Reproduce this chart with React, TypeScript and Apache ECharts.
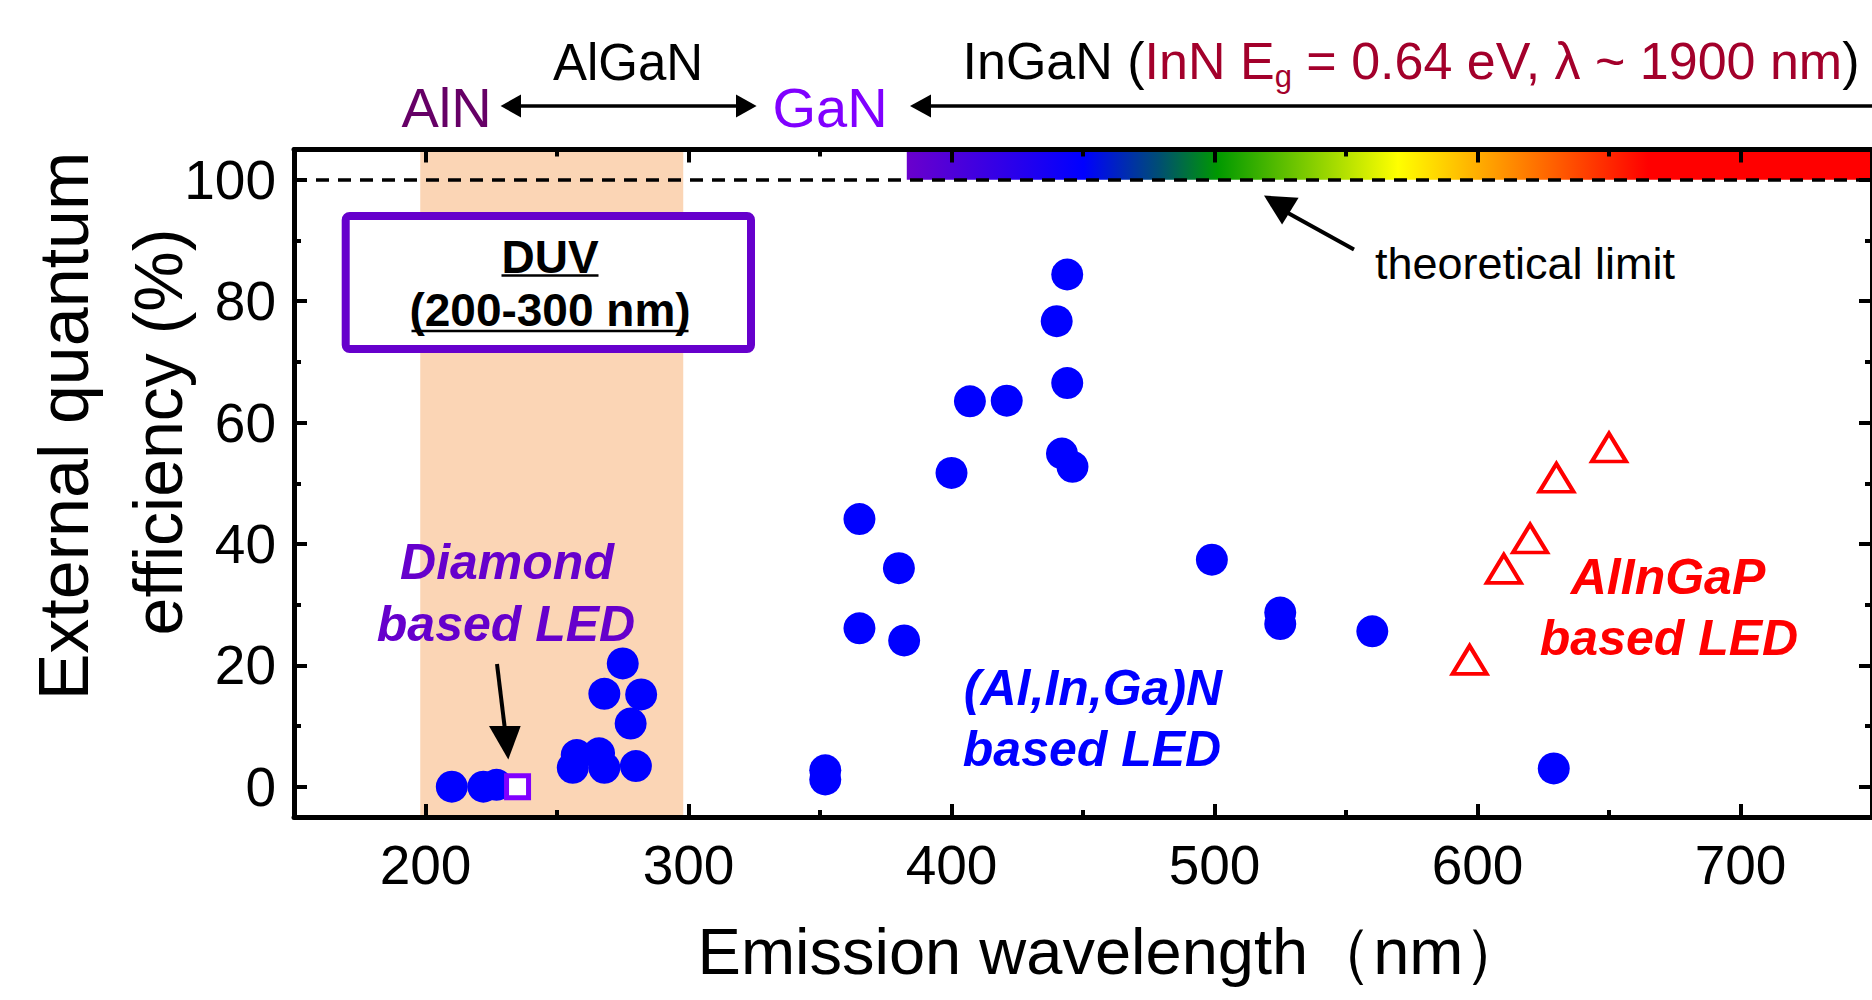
import { useEffect, useRef } from 'react';
import * as echarts from 'echarts';

const FONT = "'Liberation Sans', Arial, Helvetica, sans-serif";

// ---- data (wavelength nm, EQE %) ----
const alInGaNLed: [number, number][] = [
  [210, 0], [222, 0], [227, 0.3],
  [256, 3.1], [257.5, 5.2], [266, 5.5], [268, 3.1], [280, 3.4],
  [278, 10.4], [268, 15.3], [282, 15.2], [275, 20.3],
  [352, 2.7], [352, 1.2],
  [365, 44.1], [380, 36.0], [365, 26.1], [382, 24.1],
  [400, 51.7], [407, 63.5], [421, 63.6], [440, 76.7], [444, 84.4],
  [444, 66.5], [442, 54.9], [446, 52.7],
  [499, 37.4], [525, 28.7], [525, 26.8], [560, 25.6], [629, 3.0],
];
const diamondLed: [number, number][] = [[235, 0]];
const alInGaPLed: [number, number][] = [
  [597, 20.9], [610, 35.9], [620, 40.9], [630, 50.9], [650, 55.9],
];

const X_RANGE = [150, 750];
const Y_RANGE = [-5, 105];
const DUV_BAND = [198, 298];
const SPECTRUM_BAND = [383, 750];
const SPECTRUM_Y = [100, 105];
const THEORETICAL_LIMIT = 100;
const spectrumStops: [number, string][] = [
  [0, '#6A00CC'], [0.183, '#0000FF'], [0.263, '#005070'], [0.322, '#009900'],
  [0.509, '#FFFF00'], [0.612, '#FF9900'], [0.768, '#FF0000'], [1, '#FF0000'],
];

const AXIS_W = 5;

function axisCommon(showLabel: boolean) {
  return {
    z: 10,
    axisLine: { show: true, onZero: false, lineStyle: { color: '#000', width: AXIS_W } },
    axisTick: { show: true, inside: true, length: 13, lineStyle: { color: '#000', width: 4 } },
    minorTick: { show: true, splitNumber: 2, length: 7, lineStyle: { color: '#000', width: 4 } },
    splitLine: { show: false },
    minorSplitLine: { show: false },
    axisLabel: {
      show: showLabel,
      showMinLabel: false,
      showMaxLabel: false,
      color: '#000',
      fontSize: 55,
      fontFamily: FONT,
    },
  };
}

function txt(x: number, y: number, text: string, size: number, color: string, extra: any = {}, rot = 0) {
  return {
    type: 'text',
    x,
    y,
    rotation: rot,
    z: 100,
    style: {
      text,
      fill: color,
      fontSize: size,
      fontFamily: FONT,
      fontWeight: extra.bold ? 'bold' : 'normal',
      fontStyle: extra.italic ? 'italic' : 'normal',
      align: 'center',
      verticalAlign: 'middle',
      textAlign: 'center',
      textVerticalAlign: 'middle',
    },
  };
}

function line(x1: number, y1: number, x2: number, y2: number, w: number, color = '#000') {
  return { type: 'line', z: 100, shape: { x1, y1, x2, y2 }, style: { stroke: color, lineWidth: w } };
}

function tri(points: number[][], color = '#000') {
  return { type: 'polygon', z: 100, shape: { points }, style: { fill: color } };
}

export default function App() {
  const ref = useRef<HTMLDivElement>(null);
  useEffect(() => {
    if (!ref.current) return;
    const chart = echarts.init(ref.current, undefined, { renderer: 'svg' });
    const option: any = {
      animation: false,
      backgroundColor: '#fff',
      textStyle: { fontFamily: FONT },
      grid: { left: 294, top: 149.5, width: 1581, height: 667.5, containLabel: false },
      xAxis: [
        {
          ...axisCommon(true),
          type: 'value',
          position: 'bottom',
          min: X_RANGE[0],
          max: X_RANGE[1],
          splitNumber: 6,
          axisLabel: { ...axisCommon(true).axisLabel, margin: 20 },
        },
        {
          ...axisCommon(false),
          type: 'value',
          position: 'top',
          min: X_RANGE[0],
          max: X_RANGE[1],
          splitNumber: 6,
        },
      ],
      yAxis: [
        {
          ...axisCommon(true),
          type: 'value',
          position: 'left',
          min: Y_RANGE[0],
          max: Y_RANGE[1],
          splitNumber: 5,
          axisLabel: { ...axisCommon(true).axisLabel, margin: 18 },
        },
        {
          ...axisCommon(false),
          type: 'value',
          position: 'right',
          min: Y_RANGE[0],
          max: Y_RANGE[1],
          splitNumber: 5,
        },
      ],
      series: [
        {
          type: 'scatter',
          data: [],
          silent: true,
          markArea: {
            silent: true,
            data: [
              [
                { xAxis: DUV_BAND[0], itemStyle: { color: '#FBD5B5' } },
                { xAxis: DUV_BAND[1] },
              ],
              [
                {
                  xAxis: SPECTRUM_BAND[0],
                  yAxis: SPECTRUM_Y[0],
                  itemStyle: {
                    color: {
                      type: 'linear', x: 0, y: 0, x2: 1, y2: 0,
                      colorStops: spectrumStops.map(([offset, color]) => ({ offset, color })),
                    },
                  },
                },
                { xAxis: SPECTRUM_BAND[1], yAxis: SPECTRUM_Y[1] },
              ],
            ],
            label: { show: false },
          },
          markLine: {
            silent: true,
            symbol: ['none', 'none'],
            label: { show: false },
            lineStyle: { color: '#000', width: 3.5, type: [13, 9] },
            data: [{ yAxis: THEORETICAL_LIMIT }],
          },
        },
        {
          name: '(Al,In,Ga)N based LED',
          type: 'scatter',
          data: alInGaNLed,
          symbol: 'circle',
          symbolSize: 32,
          itemStyle: { color: '#0000FF', opacity: 1 },
          z: 3,
        },
        {
          name: 'Diamond based LED',
          type: 'scatter',
          data: diamondLed,
          symbol: 'rect',
          symbolSize: 22,
          itemStyle: { color: '#FFFFFF', borderColor: '#8000FF', borderWidth: 5, opacity: 1 },
          z: 4,
        },
        {
          name: 'AlInGaP based LED',
          type: 'scatter',
          data: alInGaPLed,
          symbol: 'triangle',
          symbolSize: [34, 28],
          itemStyle: { color: '#FFFFFF', borderColor: '#FF0000', borderWidth: 4, opacity: 1 },
          z: 4,
        },
      ],
      graphic: [
        // top labels
        txt(446.6, 107.6, 'AlN', 56, '#660066'),
        txt(628, 62.7, 'AlGaN', 51, '#000'),
        txt(830, 107.6, 'GaN', 56, '#8000FF'),
        line(515, 106, 742, 106, 3.5),
        tri([[500.6, 106], [521, 94.5], [521, 117.5]]),
        tri([[756.6, 106], [736, 94.5], [736, 117.5]]),
        line(925, 106, 1872, 106, 3.5),
        tri([[910, 106], [931, 94.5], [931, 117.5]]),
        {
          type: 'text',
          x: 1411,
          y: 60.7,
          z: 100,
          style: {
            text: '{a|InGaN (}{r|InN E}{s|g}{r| = 0.64 eV, λ ~ 1900 nm}{a|)}',
            align: 'center',
            verticalAlign: 'middle',
            textAlign: 'center',
            textVerticalAlign: 'middle',
            fontFamily: FONT,
            fontSize: 52,
            rich: {
              a: { fill: '#000', color: '#000', fontSize: 52, fontFamily: FONT, lineHeight: 62 },
              r: { fill: '#A3002B', color: '#A3002B', fontSize: 52, fontFamily: FONT, lineHeight: 62 },
              s: { fill: '#A3002B', color: '#A3002B', fontSize: 31, fontFamily: FONT, lineHeight: 44, verticalAlign: 'bottom' },
            },
          },
        },
        // DUV box
        {
          type: 'rect',
          z: 100,
          shape: { x: 345.7, y: 216, width: 405.3, height: 133, r: 4 },
          style: { fill: '#FFFFFF', stroke: '#6600CC', lineWidth: 8 },
        },
        txt(550, 257, 'DUV', 46, '#000', { bold: true }),
        line(501.5, 275.5, 598.5, 275.5, 2.5),
        txt(550, 310, '(200-300 nm)', 46, '#000', { bold: true }),
        line(411.5, 331, 688.5, 331, 2.5),
        // Diamond label + arrow
        txt(507, 561.7, 'Diamond', 50, '#6600CC', { bold: true, italic: true }),
        txt(506, 623.7, 'based LED', 50, '#6600CC', { bold: true, italic: true }),
        line(497, 664, 505, 730, 4),
        tri([[508.3, 759.5], [489, 726], [520.7, 726]]),
        // (Al,In,Ga)N label
        txt(1093, 687.7, '(Al,In,Ga)N', 50, '#0000FF', { bold: true, italic: true }),
        txt(1092, 748.7, 'based LED', 50, '#0000FF', { bold: true, italic: true }),
        // AlInGaP label
        txt(1668, 576.7, 'AlInGaP', 50, '#FF0000', { bold: true, italic: true }),
        txt(1669, 637.7, 'based LED', 50, '#FF0000', { bold: true, italic: true }),
        // theoretical limit
        txt(1525, 263, 'theoretical limit', 45, '#000'),
        line(1354, 249.5, 1288, 213, 4),
        tri([[1264, 195.6], [1298.6, 197.7], [1282.1, 224.6]]),
        // axis titles
        txt(1113, 951, 'Emission wavelength（nm）', 65, '#000'),
        txt(63.7, 426, 'External quantum', 70, '#000', {}, Math.PI / 2),
        txt(157.7, 432, 'efficiency (%)', 68, '#000', {}, Math.PI / 2),
      ],
    };
    chart.setOption(option);
    return () => chart.dispose();
  }, []);
  return (
    <div
      ref={ref}
      style={{ position: 'fixed', left: 0, top: 0, width: 1872, height: 1000, background: '#fff' }}
    />
  );
}
